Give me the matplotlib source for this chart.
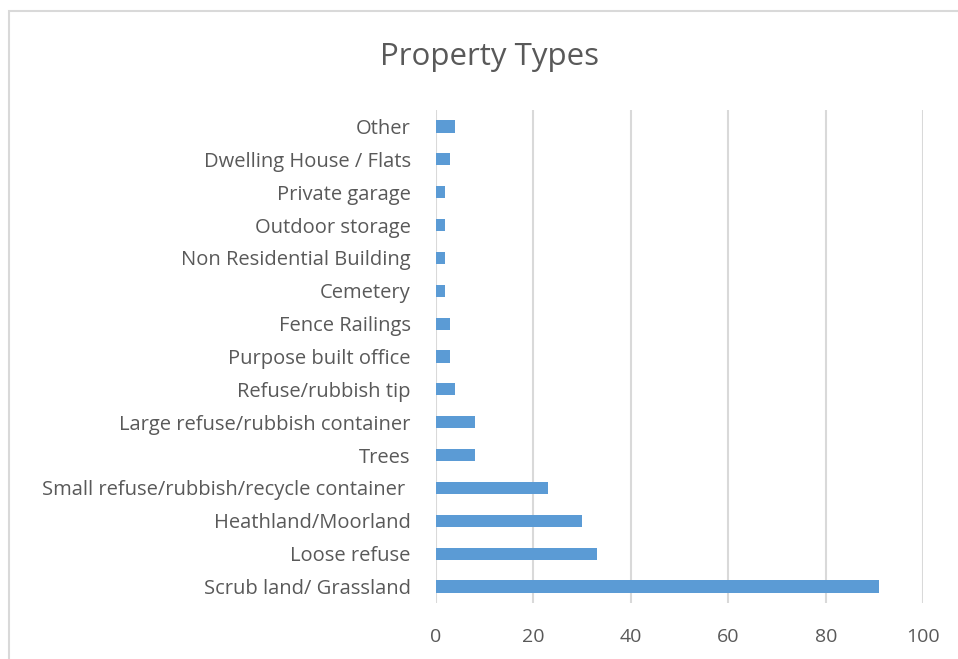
import matplotlib
matplotlib.use("Agg")
import matplotlib.pyplot as plt
from matplotlib.patches import Rectangle

categories = [
    "Scrub land/ Grassland",
    "Loose refuse",
    "Heathland/Moorland",
    "Small refuse/rubbish/recycle container ",
    "Trees",
    "Large refuse/rubbish container",
    "Refuse/rubbish tip",
    "Purpose built office",
    "Fence Railings",
    "Cemetery",
    "Non Residential Building",
    "Outdoor storage",
    "Private garage",
    "Dwelling House / Flats",
    "Other",
]
values = [91, 33, 30, 23, 8, 8, 4, 3, 3, 2, 2, 2, 2, 3, 4]
xticks = [0, 20, 40, 60, 80, 100]

plt.rcParams['font.family'] = ['Open Sans', 'DejaVu Sans']
text_color = "#595959"

fig = plt.figure(figsize=(9.58, 6.59), dpi=100)
# outer chart border
fig.patches.append(Rectangle((9/958, -0.2), 1.5, 1 - 11/659 + 0.2,
                             transform=fig.transFigure, fill=False,
                             edgecolor="#d9d9d9", linewidth=1.5))

ax = fig.add_axes([435.7/958, 1 - 603/659, (923.3 - 435.7)/958, (603 - 110)/659])
y = list(range(len(categories)))
ax.barh(y, values, height=0.37, color="#5b9bd5", zorder=3)
ax.set_xlim(0, 100)
ax.set_ylim(-0.5, len(categories) - 0.5)
ax.set_yticks(y)
ax.set_yticklabels(categories, fontsize=14.5, color=text_color)
ax.set_xticks(xticks)
ax.set_xticklabels([str(t) for t in xticks], fontsize=14, color=text_color)
ax.tick_params(axis='both', length=0)
ax.tick_params(axis='y', pad=18)
ax.tick_params(axis='x', pad=18)
ax.grid(axis='x', color="#d9d9d9", linewidth=1.5, zorder=0)
for s in ax.spines.values():
    s.set_visible(False)

fig.text(490/958, 1 - 57/659, "Property Types", ha='center', va='center',
         fontsize=22.5, color=text_color)

fig.savefig("out.png", dpi=100)
